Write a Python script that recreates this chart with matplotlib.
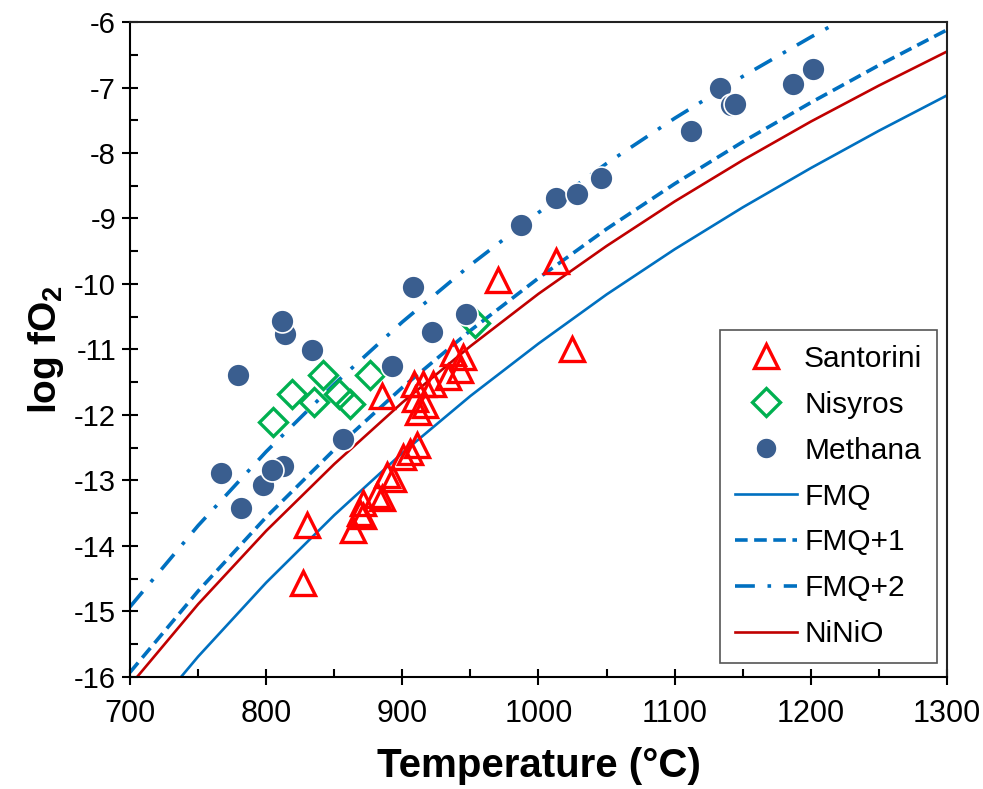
import numpy as np
import matplotlib
matplotlib.use("Agg")
import matplotlib.pyplot as plt
from matplotlib.ticker import MultipleLocator

plt.rcParams['font.family'] = ['Liberation Sans', 'DejaVu Sans']
plt.rcParams['axes.unicode_minus'] = False
plt.rcParams['mathtext.fontset'] = 'custom'
plt.rcParams['mathtext.rm'] = 'Liberation Sans'
plt.rcParams['mathtext.bf'] = 'Liberation Sans:bold'

# buffer curves (every 50 degC)
temp_c = [700, 750, 800, 850, 900, 950, 1000, 1050, 1100, 1150, 1200, 1250, 1300]
fmq = [-16.93, -15.69, -14.56, -13.53, -12.58, -11.71, -10.91, -10.16, -9.47, -8.83, -8.23, -7.66, -7.12]
fmq1 = [-15.93, -14.69, -13.56, -12.53, -11.58, -10.71, -9.91, -9.16, -8.47, -7.83, -7.23, -6.66, -6.12]
fmq2 = [-14.93, -13.69, -12.56, -11.53, -10.58, -9.71, -8.91, -8.16, -7.47, -6.83, -6.23, -5.66, -5.12]
ninio = [-16.13, -14.89, -13.77, -12.75, -11.81, -10.95, -10.15, -9.42, -8.74, -8.11, -7.52, -6.97, -6.45]

santorini_t = [1012.8, 970.0, 1024.6, 830.2, 827.3, 884.8, 937.4, 944.8, 942.3, 933.8,
               908.5, 915.4, 922.7, 909.3, 916.6, 911.7, 910.5, 905.6, 900.7, 888.5,
               893.4, 881.1, 884.8, 871.3, 868.9, 864.0, 871.3]
santorini_f = [-9.65, -9.94, -11.00, -13.68, -14.57, -11.71, -11.05, -11.11, -11.31, -11.42,
               -11.52, -11.52, -11.52, -11.75, -11.85, -11.95, -12.46, -12.56, -12.64, -12.92,
               -12.97, -13.22, -13.27, -13.35, -13.50, -13.76, -13.55]

nisyros_t = [804.8, 819.2, 835.4, 842.0, 853.5, 861.6, 876.3, 953.4]
nisyros_f = [-12.10, -11.68, -11.80, -11.39, -11.68, -11.83, -11.39, -10.60]

methana_t = [766.6, 781.3, 779.5, 797.9, 812.6, 804.0, 813.8, 811.4, 833.4, 856.6,
             892.2, 908.0, 922.0, 946.8, 986.9, 1012.8, 1028.0, 1045.6, 1111.7, 1133.3,
             1141.5, 1144.3, 1187.0, 1201.8]
methana_f = [-12.88, -13.42, -11.39, -13.07, -12.78, -12.84, -10.76, -10.57, -11.01, -12.37,
             -11.25, -10.05, -10.73, -10.46, -9.10, -8.68, -8.62, -8.38, -7.66, -7.01,
             -7.27, -7.25, -6.95, -6.71]

fig = plt.figure(figsize=(9.83, 7.89), dpi=100)
ax = fig.add_axes([0.1322, 0.1420, 0.8312, 0.8301])

ax.plot(temp_c, fmq, color='#0070C0', lw=1.9, label='FMQ', zorder=2)
ax.plot(temp_c, fmq1, color='#0070C0', lw=2.6, dashes=(3.5, 1.8), label='FMQ+1', zorder=2)
ax.plot(temp_c, fmq2, color='#0070C0', lw=2.6, dashes=(5.5, 3.5, 1, 3.5), label='FMQ+2', zorder=2)
ax.plot(temp_c, ninio, color='#C00000', lw=1.9, label='NiNiO', zorder=2)

ax.plot(santorini_t, santorini_f, ls='none', marker='^', ms=17, mfc='none', mec='#FF0000',
        mew=2.4, label='Santorini', zorder=3)
ax.plot(nisyros_t, nisyros_f, ls='none', marker='D', ms=14.5, mfc='none', mec='#00B050',
        mew=2.4, label='Nisyros', zorder=4)
for t, f in zip(methana_t, methana_f):
    ax.plot(t, f, ls='none', marker='o', ms=16.5, mfc='#3A5E8F', mec='white', mew=1.2, zorder=5)
ax.plot([], [], ls='none', marker='o', ms=15, mfc='#3A5E8F', mec='white', mew=1.0, label='Methana')

ax.set_xlim(700, 1300)
ax.set_ylim(-16, -6)
ax.xaxis.set_major_locator(MultipleLocator(100))
ax.xaxis.set_minor_locator(MultipleLocator(50))
ax.yaxis.set_major_locator(MultipleLocator(1))
ax.yaxis.set_minor_locator(MultipleLocator(0.5))
ax.tick_params(which='major', direction='inout', length=12, width=1.5, labelsize=21, pad=4)
ax.tick_params(which='minor', direction='in', length=6, width=1.5)
ax.tick_params(axis='x', which='major', pad=10, labelsize=22)
for s in ax.spines.values():
    s.set_linewidth(1.5)
    s.set_color('#222222')
ax.spines['left'].set_color('black')
ax.spines['bottom'].set_color('black')

ax.set_xlabel('Temperature (°C)', fontsize=29, fontweight='bold', labelpad=13)
ax.set_ylabel('log fO$_\\mathbf{2}$', fontsize=28, fontweight='bold', labelpad=6)

h, l = ax.get_legend_handles_labels()
order = ['Santorini', 'Nisyros', 'Methana', 'FMQ', 'FMQ+1', 'FMQ+2', 'NiNiO']
hd = dict(zip(l, h))
leg = ax.legend([hd[k] for k in order], order, loc='lower right', fontsize=21.5,
                handlelength=2.1, handletextpad=0.22, labelspacing=0.6, borderpad=0.5,
                borderaxespad=0, fancybox=False, edgecolor='#555555', framealpha=1,
                bbox_to_anchor=(0.988, 0.021))
leg.get_frame().set_linewidth(1.2)

fig.savefig('out.png', dpi=100)
